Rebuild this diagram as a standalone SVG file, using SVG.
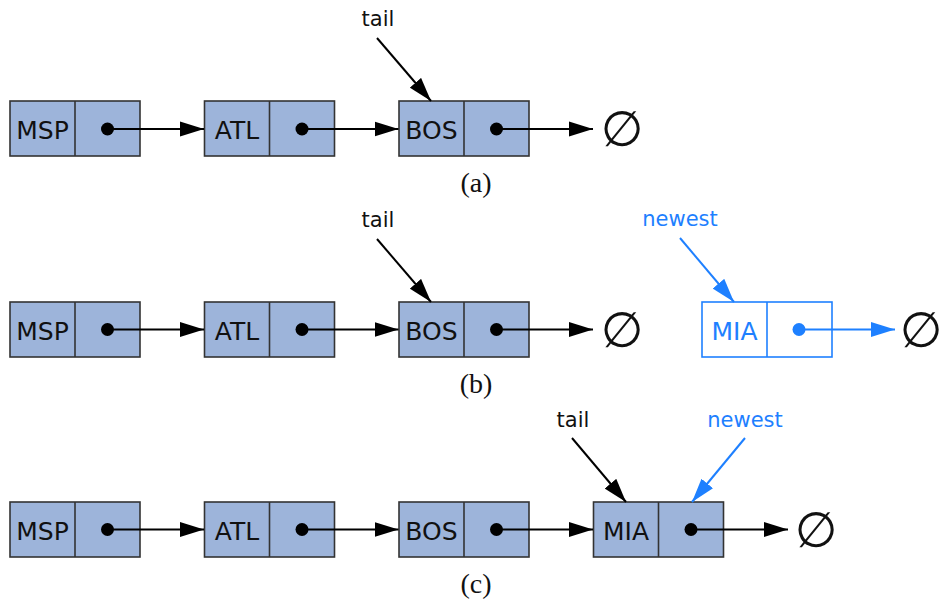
<svg xmlns="http://www.w3.org/2000/svg" width="942" height="601" viewBox="0 0 942 601">
<style>
.box{fill:#9db4da;stroke:#333;stroke-width:1.6}
.nbox{fill:#fff;stroke:#1e80ff;stroke-width:1.6}
.lbl{font-family:"DejaVu Sans",sans-serif;font-size:25px;fill:#111;text-anchor:middle}
.nlbl{font-family:"DejaVu Sans",sans-serif;font-size:25px;fill:#1e80ff;text-anchor:middle}
.ptr{font-family:"DejaVu Sans",sans-serif;font-size:21px;fill:#111;text-anchor:middle}
.bptr{font-family:"DejaVu Sans",sans-serif;font-size:21px;fill:#1e80ff;text-anchor:middle}
.cap{font-family:"Liberation Serif",serif;font-size:28px;fill:#111;text-anchor:middle}
.null{font-family:"DejaVu Sans",sans-serif;font-size:49px;fill:#111;text-anchor:middle}
.ln{stroke:#000;stroke-width:2;fill:none}
.bln{stroke:#1e80ff;stroke-width:2;fill:none}
</style>
<defs>
<marker id="ah" markerUnits="userSpaceOnUse" markerWidth="24" markerHeight="16" refX="24" refY="8" orient="auto"><path d="M0,0.5 L24,8 L0,15.5 z" fill="#000"/></marker>
<marker id="bah" markerUnits="userSpaceOnUse" markerWidth="24" markerHeight="16" refX="24" refY="8" orient="auto"><path d="M0,0.5 L24,8 L0,15.5 z" fill="#1e80ff"/></marker>
</defs>

<!-- Row (a) -->
<g id="a-msp"><rect class="box" x="10" y="101" width="130" height="55"/><line class="box" x1="75" y1="101" x2="75" y2="156"/><text class="lbl" x="42.5" y="139">MSP</text></g>
<g id="a-atl"><rect class="box" x="204.5" y="101" width="130" height="55"/><line class="box" x1="269.5" y1="101" x2="269.5" y2="156"/><text class="lbl" x="237" y="139">ATL</text></g>
<g id="a-bos"><rect class="box" x="399" y="101" width="130" height="55"/><line class="box" x1="464" y1="101" x2="464" y2="156"/><text class="lbl" x="431.5" y="139">BOS</text></g>
<g id="a-null"><text class="null" x="622" y="146">∅</text></g>
<g id="a-tail"><text class="ptr" x="378" y="26">tail</text></g>
<text class="cap" x="476" y="192">(a)</text>

<!-- Row (b) -->
<g id="b-msp"><rect class="box" x="10" y="302" width="130" height="55"/><line class="box" x1="75" y1="302" x2="75" y2="357"/><text class="lbl" x="42.5" y="340">MSP</text></g>
<g id="b-atl"><rect class="box" x="204.5" y="302" width="130" height="55"/><line class="box" x1="269.5" y1="302" x2="269.5" y2="357"/><text class="lbl" x="237" y="340">ATL</text></g>
<g id="b-bos"><rect class="box" x="399" y="302" width="130" height="55"/><line class="box" x1="464" y1="302" x2="464" y2="357"/><text class="lbl" x="431.5" y="340">BOS</text></g>
<g id="b-null1"><text class="null" x="622" y="347">∅</text></g>
<g id="b-mia"><rect class="nbox" x="702" y="302" width="130" height="55"/><line class="nbox" x1="767" y1="302" x2="767" y2="357"/><text class="nlbl" x="734.5" y="340">MIA</text></g>
<g id="b-null2"><text class="null" x="921" y="347">∅</text></g>
<g id="b-tail"><text class="ptr" x="378" y="227">tail</text></g>
<g id="b-newest"><text class="bptr" x="680" y="226">newest</text></g>
<text class="cap" x="476" y="393">(b)</text>

<!-- Row (c) -->
<g id="c-msp"><rect class="box" x="10" y="502" width="130" height="55"/><line class="box" x1="75" y1="502" x2="75" y2="557"/><text class="lbl" x="42.5" y="540">MSP</text></g>
<g id="c-atl"><rect class="box" x="204.5" y="502" width="130" height="55"/><line class="box" x1="269.5" y1="502" x2="269.5" y2="557"/><text class="lbl" x="237" y="540">ATL</text></g>
<g id="c-bos"><rect class="box" x="399" y="502" width="130" height="55"/><line class="box" x1="464" y1="502" x2="464" y2="557"/><text class="lbl" x="431.5" y="540">BOS</text></g>
<g id="c-mia"><rect class="box" x="593.5" y="502" width="130" height="55"/><line class="box" x1="658.5" y1="502" x2="658.5" y2="557"/><text class="lbl" x="626" y="540">MIA</text></g>
<g id="c-null"><text class="null" x="816" y="547">∅</text></g>
<g id="c-tail"><text class="ptr" x="573" y="427">tail</text></g>
<g id="c-newest"><text class="bptr" x="745" y="427">newest</text></g>
<text class="cap" x="476" y="593">(c)</text>

<g id="connectors">
<!-- row a -->
<circle cx="107.5" cy="129" r="6.5" fill="#000"/><line class="ln" x1="107.5" y1="129" x2="204" y2="129" marker-end="url(#ah)"/>
<circle cx="302" cy="129" r="6.5" fill="#000"/><line class="ln" x1="302" y1="129" x2="398.5" y2="129" marker-end="url(#ah)"/>
<circle cx="496.5" cy="129" r="6.5" fill="#000"/><line class="ln" x1="496.5" y1="129" x2="593" y2="129" marker-end="url(#ah)"/>
<line class="ln" x1="377" y1="38" x2="431" y2="101" marker-end="url(#ah)"/>
<!-- row b -->
<circle cx="107.5" cy="329.5" r="6.5" fill="#000"/><line class="ln" x1="107.5" y1="329.5" x2="204" y2="329.5" marker-end="url(#ah)"/>
<circle cx="302" cy="329.5" r="6.5" fill="#000"/><line class="ln" x1="302" y1="329.5" x2="398.5" y2="329.5" marker-end="url(#ah)"/>
<circle cx="496.5" cy="329.5" r="6.5" fill="#000"/><line class="ln" x1="496.5" y1="329.5" x2="593" y2="329.5" marker-end="url(#ah)"/>
<circle cx="799" cy="329.5" r="6.5" fill="#1e80ff"/><line class="bln" x1="799" y1="329.5" x2="895" y2="329.5" marker-end="url(#bah)"/>
<line class="ln" x1="377" y1="239" x2="431" y2="302" marker-end="url(#ah)"/>
<line class="bln" x1="680" y1="238" x2="734" y2="302" marker-end="url(#bah)"/>
<!-- row c -->
<circle cx="107.5" cy="529.5" r="6.5" fill="#000"/><line class="ln" x1="107.5" y1="529.5" x2="204" y2="529.5" marker-end="url(#ah)"/>
<circle cx="302" cy="529.5" r="6.5" fill="#000"/><line class="ln" x1="302" y1="529.5" x2="398.5" y2="529.5" marker-end="url(#ah)"/>
<circle cx="496.5" cy="529.5" r="6.5" fill="#000"/><line class="ln" x1="496.5" y1="529.5" x2="593" y2="529.5" marker-end="url(#ah)"/>
<circle cx="691" cy="529.5" r="6.5" fill="#000"/><line class="ln" x1="691" y1="529.5" x2="788" y2="529.5" marker-end="url(#ah)"/>
<line class="ln" x1="572" y1="438" x2="626" y2="502" marker-end="url(#ah)"/>
<line class="bln" x1="745" y1="438" x2="692" y2="502" marker-end="url(#bah)"/>
</g>
</svg>
